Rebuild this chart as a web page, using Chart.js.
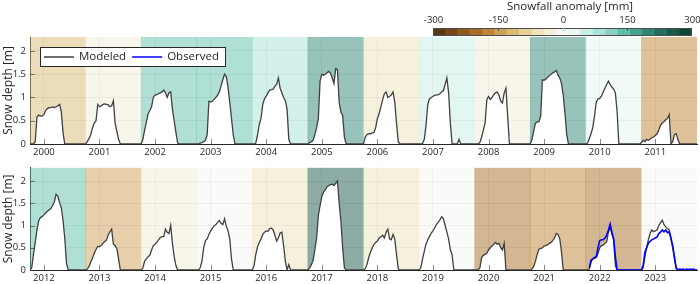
<!DOCTYPE html>
<html>
<head>
<meta charset="utf-8">
<script src="https://cdn.jsdelivr.net/npm/chart.js@4.4.1/dist/chart.umd.min.js"></script>
<style>
  html, body { margin: 0; padding: 0; background: #fff; }
  #wrap { position: relative; width: 700px; height: 284px; overflow: hidden; }
  #wrap canvas { position: absolute; }
  #topChart { left: 0; top: 0; }
  #bottomChart { left: 0; top: 158px; }
  #cbarChart { left: 400px; top: 0; }
</style>
</head>
<body>
<div id="wrap">
  <canvas id="topChart" width="700" height="160"></canvas>
  <canvas id="bottomChart" width="700" height="126"></canvas>
  <canvas id="cbarChart" width="300" height="40"></canvas>
</div>
<script>
// hydrological years (label = calendar year of the winter's January)
const years = [2000, 2001, 2002, 2003, 2004, 2005, 2006, 2007, 2008, 2009, 2010, 2011,
               2012, 2013, 2014, 2015, 2016, 2017, 2018, 2019, 2020, 2021, 2022, 2023];

// snowfall anomaly per year [mm]
const anomaly = [-110, -30, 135, 140, 80, 205, -60, 55, -25, 195, 20, -170,
                 150, -140, -35, 5, -55, 265, -50, -5, -195, -160, -190, 0];

// modeled snow depth [m], 32 samples per year starting 1 Oct (missing tail = 0)
const modeled = [
  [0, 0, 0, 0.05, 0.58, 0.62, 0.6, 0.6, 0.63, 0.72, 0.76, 0.78, 0.78, 0.8, 0.78, 0.8, 0.82, 0.85, 0.7, 0.25, 0],           // 2000
  [0, 0.05, 0.12, 0.2, 0.35, 0.45, 0.5, 0.85, 0.8, 0.82, 0.85, 0.86, 0.85, 0.84, 0.8, 0.82, 0.93, 0.45, 0.27, 0.1, 0],      // 2001
  [0, 0.1, 0.3, 0.47, 0.65, 0.72, 0.8, 1.0, 1.05, 1.06, 1.08, 1.1, 1.12, 1.16, 1.1, 1.0, 1.1, 1.12, 0.75, 0.5, 0.25, 0.02, 0], // 2002
  [0, 0, 0.02, 0.03, 0.05, 0.08, 0.2, 0.92, 0.9, 0.92, 0.96, 1.0, 1.05, 1.12, 1.25, 1.38, 1.5, 1.45, 1.22, 0.9, 0.55, 0.2, 0], // 2003
  [0, 0, 0.02, 0.2, 0.42, 0.55, 0.85, 0.97, 1.03, 1.1, 1.16, 1.17, 1.18, 1.24, 1.28, 1.42, 1.2, 1.1, 1.0, 0.93, 0.75, 0.1, 0], // 2004
  [0, 0.03, 0.05, 0.08, 0.2, 0.35, 0.55, 1.35, 1.5, 1.48, 1.5, 1.53, 1.56, 1.52, 1.42, 1.3, 1.62, 1.6, 0.9, 0.68, 0.62, 0.15, 0], // 2005
  [0, 0.15, 0.2, 0.22, 0.22, 0.24, 0.25, 0.35, 0.55, 0.65, 0.8, 0.95, 1.08, 1.12, 1.0, 1.02, 1.05, 1.12, 0.9, 0.45, 0.05, 0], // 2006
  [0, 0, 0.01, 0.1, 0.4, 0.85, 0.97, 1.0, 1.02, 1.05, 1.05, 1.06, 1.08, 1.12, 1.15, 1.28, 1.42, 1.1, 0.45, 0, 0, 0, 0, 0.1, 0], // 2007
  [0, 0, 0, 0.03, 0.15, 0.3, 0.45, 0.95, 1.02, 0.96, 1.0, 1.06, 1.1, 1.12, 1.05, 0.92, 0.88, 1.1, 1.2, 0.6, 0],              // 2008
  [0, 0.1, 0.28, 0.45, 0.47, 0.48, 0.6, 1.38, 1.37, 1.4, 1.43, 1.47, 1.5, 1.53, 1.55, 1.58, 1.48, 1.42, 1.3, 1.05, 0.65, 0.2, 0], // 2009
  [0, 0.02, 0.12, 0.22, 0.35, 0.6, 0.9, 0.97, 0.98, 1.03, 1.12, 1.2, 1.28, 1.35, 1.28, 1.22, 1.18, 1.1, 0.7, 0],            // 2010
  [0.03, 0.08, 0.05, 0.1, 0.08, 0.1, 0.14, 0.15, 0.18, 0.22, 0.3, 0.4, 0.45, 0.48, 0.52, 0.55, 0.63, 0, 0.05, 0.2, 0.22, 0.1, 0], // 2011
  [0, 0.05, 0.35, 0.62, 0.9, 1.1, 1.18, 1.2, 1.24, 1.28, 1.32, 1.35, 1.38, 1.45, 1.53, 1.7, 1.66, 1.52, 1.4, 1.12, 0.72, 0.15, 0], // 2012
  [0, 0.02, 0.08, 0.18, 0.27, 0.38, 0.46, 0.53, 0.52, 0.55, 0.6, 0.64, 0.67, 0.78, 0.86, 0.92, 0.58, 0.55, 0.48, 0.25, 0],   // 2013
  [0, 0.05, 0.2, 0.25, 0.3, 0.33, 0.45, 0.55, 0.58, 0.62, 0.68, 0.73, 0.75, 0.75, 0.92, 0.85, 0.82, 1.0, 0.6, 0.3, 0.1, 0],  // 2014
  [0, 0, 0.05, 0.2, 0.5, 0.66, 0.7, 0.8, 0.88, 0.94, 0.99, 1.02, 1.07, 1.11, 1.05, 1.02, 1.15, 0.98, 0.88, 0.7, 0.25, 0],    // 2015
  [0, 0.1, 0.35, 0.52, 0.62, 0.7, 0.8, 0.85, 0.88, 0.87, 0.93, 0.94, 0.9, 0.78, 0.65, 0.72, 0.83, 0.85, 0.55, 0.2, 0, 0.12, 0], // 2016
  [0, 0.05, 0.12, 0.22, 0.45, 0.72, 1.22, 1.45, 1.65, 1.75, 1.8, 1.87, 1.9, 1.92, 1.93, 1.9, 1.95, 2.0, 1.5, 1.1, 0.5, 0.05, 0], // 2017
  [0, 0.03, 0.12, 0.28, 0.4, 0.5, 0.57, 0.62, 0.65, 0.72, 0.75, 0.78, 0.72, 0.85, 0.92, 0.7, 0.68, 0.8, 0.7, 0.35, 0.03, 0], // 2018
  [0, 0.05, 0.25, 0.42, 0.58, 0.68, 0.75, 0.83, 0.88, 0.95, 1.02, 1.07, 1.13, 1.2, 1.15, 1.0, 0.85, 0.7, 0.45, 0.35, 0],     // 2019
  [0, 0, 0, 0.05, 0.28, 0.33, 0.35, 0.38, 0.45, 0.5, 0.54, 0.58, 0.62, 0.58, 0.6, 0.5, 0.45, 0.6, 0],                         // 2020
  [0, 0.02, 0.08, 0.2, 0.35, 0.47, 0.48, 0.5, 0.54, 0.55, 0.57, 0.6, 0.62, 0.66, 0.72, 0.82, 0.8, 0.7, 0.4, 0],              // 2021
  [0, 0, 0.02, 0.18, 0.25, 0.26, 0.28, 0.37, 0.5, 0.55, 0.56, 0.6, 0.63, 0.85, 0.97, 0.8, 0.68, 0.1, 0],                      // 2022
  [0, 0.05, 0.3, 0.5, 0.68, 0.82, 0.9, 0.86, 0.88, 0.9, 1.0, 1.06, 1.12, 1.02, 0.97, 0.93, 0.9, 0.7, 0.5, 0.25, 0.03, 0]     // 2023
];

// observed snow depth [m], only the last two winters
const observedYears = [2022, 2023];
const observed = [
  [null, null, 0.05, 0.22, 0.25, 0.28, 0.3, 0.5, 0.66, 0.68, 0.68, 0.72, 0.78, 0.9, 1.03, 0.85, 0.7, 0.3, 0],
  [0, 0.1, 0.4, 0.5, 0.6, 0.64, 0.68, 0.7, 0.72, 0.74, 0.82, 0.85, 0.9, 0.86, 0.9, 0.84, 0.86, 0.72, 0.55, 0.3, 0.05, 0,
   0.02, 0.01, 0.02, 0, 0.02, 0.01, 0.02, 0.01, 0.02, 0]
];

const depthTicks = [0, 0.5, 1, 1.5, 2];
const depthMax = 2.3;
const cbarTicks = [-300, -150, 0, 150, 300];
const cbarColors = ['#5a3a14', '#74461a', '#8f5a1e', '#a86d26', '#bf8435', '#cda055', '#d9bb75',
                    '#e4d297', '#ece3ba', '#f2eed8', '#f6f6f4', '#e6f5f2', '#c8eee6', '#a8e3d6',
                    '#86d3c2', '#62bfab', '#46a38f', '#2f8775', '#226e5e', '#195a4b', '#104535'];

const STEPS = 32;
const txt = '#262626';
const fontFamily = '"Open Sans", "Noto Sans", sans-serif';

function rgba(hex, a) {
  const n = parseInt(hex.slice(1), 16);
  return `rgba(${n >> 16}, ${(n >> 8) & 255}, ${n & 255}, ${a})`;
}

function anomalyColor(v) {
  const k = Math.min(20, Math.max(0, Math.floor((v + 300) / (600 / 21))));
  return rgba(cbarColors[k], 0.5);
}

// turn per-year sample lists into {x, y} points (x in decimal years)
function toPoints(yrs, lists) {
  const pts = [];
  yrs.forEach((yr, j) => {
    const arr = lists[j];
    for (let i = 0; i < STEPS; i++) {
      pts.push({ x: yr - 0.25 + i / STEPS, y: i < arr.length ? arr[i] : 0 });
    }
  });
  pts.push({ x: yrs[yrs.length - 1] + 0.75, y: 0 });
  return pts;
}

const innerTicks = {
  id: 'innerTicks',
  afterDraw(chart) {
    const { ctx, chartArea: a, scales } = chart;
    ctx.save();
    ctx.strokeStyle = 'rgba(38,38,38,0.55)';
    ctx.lineWidth = 1;
    ctx.beginPath();
    scales.x.ticks.forEach(t => {
      const px = Math.round(scales.x.getPixelForValue(t.value)) + 0.5;
      ctx.moveTo(px, a.bottom); ctx.lineTo(px, a.bottom - 5);
    });
    scales.y.ticks.forEach(t => {
      const py = Math.round(scales.y.getPixelForValue(t.value)) + 0.5;
      ctx.moveTo(a.left, py); ctx.lineTo(a.left + 5, py);
    });
    ctx.stroke();
    ctx.restore();
  }
};

const boxLegend = {
  id: 'boxLegend',
  afterDraw(chart) {
    if (!chart.options.plugins.boxLegend.show) return;
    const { ctx, chartArea: a } = chart;
    const items = chart.data.datasets.filter(d => d.label);
    const x0 = a.left + 10, y0 = a.top + 10, h = 19;
    ctx.save();
    ctx.font = '11.5px ' + fontFamily;
    let w = 4;
    items.forEach(d => { w += 30 + 5 + ctx.measureText(d.label).width + 6; });
    ctx.fillStyle = '#fff';
    ctx.fillRect(x0, y0, w, h);
    ctx.strokeStyle = txt;
    ctx.lineWidth = 1;
    ctx.strokeRect(x0 + 0.5, y0 + 0.5, w, h);
    let x = x0 + 4;
    const cy = y0 + h / 2 + 0.5;
    items.forEach(d => {
      ctx.strokeStyle = d.borderColor;
      ctx.lineWidth = 1.5;
      ctx.beginPath(); ctx.moveTo(x, cy); ctx.lineTo(x + 30, cy); ctx.stroke();
      x += 35;
      ctx.fillStyle = txt;
      ctx.textBaseline = 'middle';
      ctx.fillText(d.label, x, cy);
      x += ctx.measureText(d.label).width + 6;
    });
    ctx.restore();
  }
};

function makePanel(id, from, to, padTop, axisH, showLegend) {
  const yrs = years.slice(from, to);
  const modeledPts = toPoints(yrs, modeled.slice(from, to));
  const hasObs = observedYears.some(y => yrs.includes(y));
  const obsPts = hasObs ? toPoints(observedYears, observed) : [];
  const grid = { color: 'rgba(0,0,0,0.09)', drawTicks: false, offset: false };
  const tickFont = { family: fontFamily, size: 9.5 };

  return new Chart(document.getElementById(id), {
    type: 'line',
    data: {
      datasets: [
        { label: 'Modeled', data: modeledPts, borderColor: '#404040', borderWidth: 1.3,
          pointRadius: 0, fill: 'origin', backgroundColor: '#ffffff', order: 1 },
        { label: 'Observed', data: obsPts, borderColor: '#0000ff', borderWidth: 1.6,
          pointRadius: 0, fill: false, order: 0 },
        { type: 'bar', data: yrs.map(y => ({ x: y + 0.25, y: depthMax })),
          backgroundColor: anomaly.slice(from, to).map(anomalyColor),
          barPercentage: 1, categoryPercentage: 1, borderWidth: 0, order: 2 }
      ]
    },
    options: {
      responsive: false,
      animation: false,
      events: [],
      layout: { padding: { top: padTop, right: 3, left: 0, bottom: 0 } },
      plugins: { legend: { display: false }, tooltip: { enabled: false }, boxLegend: { show: showLegend } },
      scales: {
        x: {
          type: 'linear', min: yrs[0] - 0.25, max: yrs[yrs.length - 1] + 0.75, offset: false, z: 1,
          afterBuildTicks: s => { s.ticks = yrs.map(v => ({ value: v })); },
          afterFit: s => { s.height = axisH; },
          grid: grid,
          border: { color: txt },
          ticks: { font: tickFont, color: txt, padding: 3, maxRotation: 0, autoSkip: false,
                   callback: v => String(v) }
        },
        y: {
          min: 0, max: depthMax, z: 1,
          afterBuildTicks: s => { s.ticks = depthTicks.map(v => ({ value: v })); },
          afterFit: s => { s.width = 30; },
          grid: grid,
          border: { color: txt },
          ticks: { font: tickFont, color: txt, padding: 4, callback: v => String(v) },
          title: { display: true, text: 'Snow depth [m]', color: txt,
                   font: { family: fontFamily, size: 12 }, padding: { top: 1, bottom: 0 } }
        }
      }
    },
    plugins: [innerTicks, boxLegend]
  });
}

makePanel('topChart', 0, 12, 37, 16, true);
makePanel('bottomChart', 12, 24, 6, 14, false);

// colorbar
new Chart(document.getElementById('cbarChart'), {
  type: 'bar',
  data: {
    datasets: [{
      data: cbarColors.map((c, k) => ({ x: -300 + (k + 0.5) * 600 / 21, y: 1 })),
      backgroundColor: cbarColors, barPercentage: 1, categoryPercentage: 1, borderWidth: 0
    }]
  },
  options: {
    responsive: false,
    animation: false,
    events: [],
    layout: { padding: { left: 33, right: 8, top: 28, bottom: 4 } },
    plugins: { legend: { display: false }, tooltip: { enabled: false } },
    scales: {
      x: {
        type: 'linear', display: false, min: -300, max: 300, offset: false,
        afterBuildTicks: s => { s.ticks = cbarTicks.map(v => ({ value: v })); }
      },
      y: { display: false, min: 0, max: 1 }
    }
  },
  plugins: [{
    id: 'cbarFrame',
    afterDraw(chart) {
      const { ctx, chartArea: a, scales } = chart;
      ctx.save();
      ctx.strokeStyle = '#4d4d4d';
      ctx.lineWidth = 1;
      ctx.strokeRect(a.left + 0.5, a.top + 0.5, a.right - a.left - 1, a.bottom - a.top - 1);
      // tick marks and labels along the top edge
      ctx.fillStyle = txt;
      ctx.font = '9.5px ' + fontFamily;
      ctx.textAlign = 'center';
      ctx.textBaseline = 'alphabetic';
      scales.x.ticks.forEach(t => {
        const px = Math.round(scales.x.getPixelForValue(t.value)) + 0.5;
        if (t.value > -300 && t.value < 300) {
          ctx.strokeStyle = t.value === 0 ? '#bbbbbb' : '#4d4d4d';
          ctx.beginPath(); ctx.moveTo(px, a.top); ctx.lineTo(px, a.top + 3); ctx.stroke();
        }
        ctx.fillText(String(t.value), px, a.top - 5);
      });
      ctx.font = '11.5px ' + fontFamily;
      ctx.textBaseline = 'middle';
      ctx.fillText('Snowfall anomaly [mm]', 170, 7);
      ctx.restore();
    }
  }]
});
</script>
</body>
</html>
